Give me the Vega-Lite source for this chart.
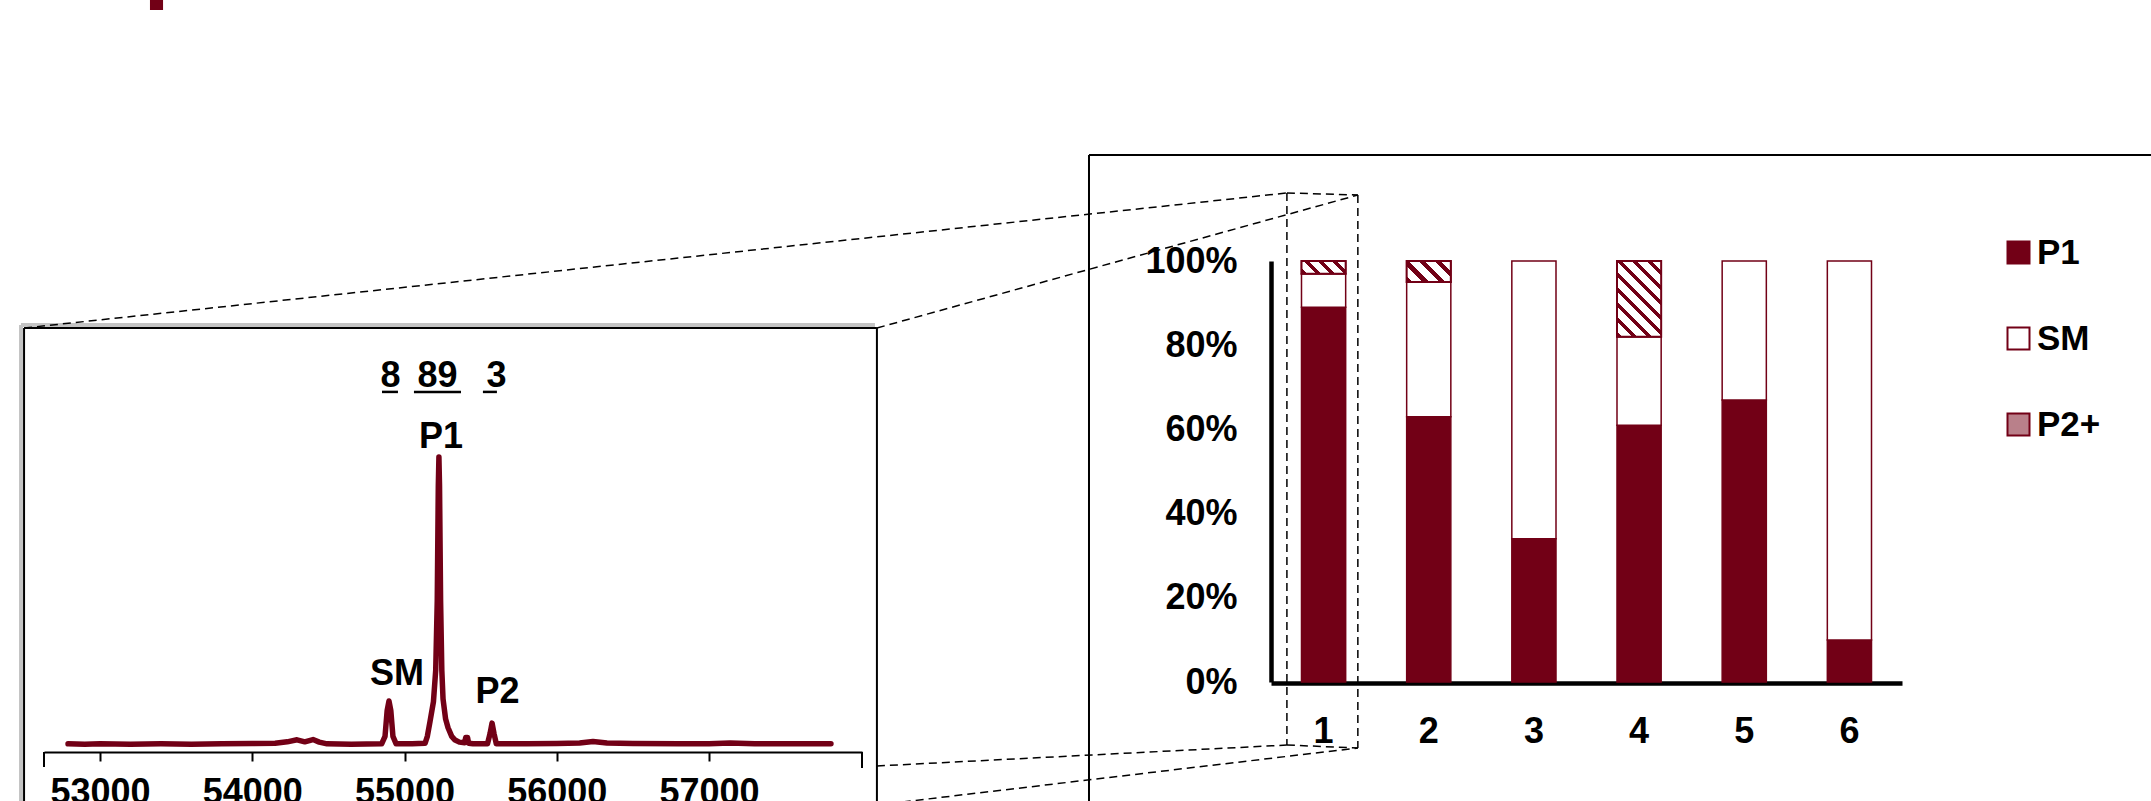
{
  "$schema": "https://vega.github.io/schema/vega-lite/v6.json",
  "width": 2151,
  "height": 801,
  "padding": 0,
  "autosize": {"type": "none"},
  "background": "white",
  "config": {"view": {"stroke": null}, "font": "Liberation Sans"},
  "datasets": {
    "spectrum": [
      {"mass": 52790, "intensity": 0.4}, {"mass": 52900, "intensity": 0.3}, {"mass": 53000, "intensity": 0.4},
      {"mass": 53200, "intensity": 0.3}, {"mass": 53400, "intensity": 0.4}, {"mass": 53600, "intensity": 0.3},
      {"mass": 53800, "intensity": 0.4}, {"mass": 54000, "intensity": 0.5}, {"mass": 54150, "intensity": 0.6},
      {"mass": 54230, "intensity": 1.1}, {"mass": 54294, "intensity": 1.8}, {"mass": 54345, "intensity": 1.1},
      {"mass": 54399, "intensity": 1.9}, {"mass": 54440, "intensity": 1.0}, {"mass": 54491, "intensity": 0.4},
      {"mass": 54650, "intensity": 0.3}, {"mass": 54850, "intensity": 0.4}, {"mass": 54872, "intensity": 3},
      {"mass": 54886, "intensity": 12}, {"mass": 54898, "intensity": 15.3}, {"mass": 54910, "intensity": 12},
      {"mass": 54924, "intensity": 3}, {"mass": 54945, "intensity": 0.4}, {"mass": 55050, "intensity": 0.4},
      {"mass": 55135, "intensity": 0.6}, {"mass": 55150, "intensity": 3}, {"mass": 55167, "intensity": 8},
      {"mass": 55190, "intensity": 15}, {"mass": 55205, "intensity": 26}, {"mass": 55215, "intensity": 50},
      {"mass": 55222, "intensity": 90}, {"mass": 55226, "intensity": 100}, {"mass": 55230, "intensity": 90},
      {"mass": 55237, "intensity": 50}, {"mass": 55245, "intensity": 26}, {"mass": 55253, "intensity": 16},
      {"mass": 55270, "intensity": 9}, {"mass": 55286, "intensity": 6}, {"mass": 55310, "intensity": 3},
      {"mass": 55332, "intensity": 1.7}, {"mass": 55360, "intensity": 1.0}, {"mass": 55395, "intensity": 0.8},
      {"mass": 55402, "intensity": 2.6}, {"mass": 55414, "intensity": 2.6}, {"mass": 55421, "intensity": 0.6},
      {"mass": 55450, "intensity": 0.4}, {"mass": 55545, "intensity": 0.4}, {"mass": 55562, "intensity": 4},
      {"mass": 55575, "intensity": 7.6}, {"mass": 55588, "intensity": 4}, {"mass": 55603, "intensity": 0.4},
      {"mass": 55800, "intensity": 0.4}, {"mass": 56000, "intensity": 0.5}, {"mass": 56150, "intensity": 0.7},
      {"mass": 56238, "intensity": 1.2}, {"mass": 56330, "intensity": 0.7}, {"mass": 56500, "intensity": 0.5},
      {"mass": 56800, "intensity": 0.4}, {"mass": 57000, "intensity": 0.4}, {"mass": 57138, "intensity": 0.7},
      {"mass": 57300, "intensity": 0.4}, {"mass": 57500, "intensity": 0.4}, {"mass": 57801, "intensity": 0.4}
    ],
    "peakLabels": [
      {"label": "8", "mass": 54908, "intensity": 128.1},
      {"label": "89", "mass": 55217, "intensity": 128.1},
      {"label": "3", "mass": 55604, "intensity": 128.1},
      {"label": "P1", "mass": 55240, "intensity": 106.9},
      {"label": "SM", "mass": 54951, "intensity": 24.7},
      {"label": "P2", "mass": 55611, "intensity": 18.4}
    ],
    "underlines": [
      {"mass": 54852, "mass2": 54957, "intensity": 122.6},
      {"mass": 55062, "mass2": 55371, "intensity": 122.6},
      {"mass": 55515, "mass2": 55607, "intensity": 122.6}
    ],
    "insetShadow": [
      {"mass": 52481, "intensity": 145.83, "mass2": 52481, "intensity2": -53.8},
      {"mass": 52481, "intensity": 145.83, "mass2": 58090, "intensity2": 145.83}
    ],
    "frames": [
      {"mass": 52501, "intensity": 144.79, "mass2": 52501, "intensity2": -53.8},
      {"mass": 52501, "intensity": 144.79, "mass2": 58103, "intensity2": 144.79},
      {"mass": 58103, "intensity": 144.79, "mass2": 58103, "intensity2": -53.8},
      {"mass": 59496, "intensity": 204.86, "mass2": 59496, "intensity2": -53.8},
      {"mass": 59496, "intensity": 204.86, "mass2": 66793, "intensity2": 204.86},
      {"mass": 52632, "intensity": -2.43, "mass2": 52632, "intensity2": -7.64},
      {"mass": 58005, "intensity": -2.43, "mass2": 58005, "intensity2": -7.99}
    ],
    "connectors": [
      {"mass": 52501, "intensity": 144.79, "mass2": 60796, "intensity2": 191.67},
      {"mass": 58103, "intensity": 144.79, "mass2": 61262, "intensity2": 190.97},
      {"mass": 58103, "intensity": -7.29, "mass2": 60796, "intensity2": 0},
      {"mass": 58103, "intensity": -20.83, "mass2": 61262, "intensity2": -1.04},
      {"mass": 60796, "intensity": 191.67, "mass2": 61262, "intensity2": 190.97},
      {"mass": 60796, "intensity": 191.67, "mass2": 60796, "intensity2": 0},
      {"mass": 61262, "intensity": 190.97, "mass2": 61262, "intensity2": -1.04},
      {"mass": 60796, "intensity": 0, "mass2": 61262, "intensity2": -1.04}
    ],
    "topMark": [
      {"mass": 53328, "intensity": 258.68, "mass2": 53414, "intensity2": 255.21}
    ],
    "bars": [
      {"lane": "1", "series": "P1", "rank": 1, "pct": 89},
      {"lane": "1", "series": "SM", "rank": 2, "pct": 8},
      {"lane": "1", "series": "P2+", "rank": 3, "pct": 3},
      {"lane": "2", "series": "P1", "rank": 1, "pct": 63},
      {"lane": "2", "series": "SM", "rank": 2, "pct": 32},
      {"lane": "2", "series": "P2+", "rank": 3, "pct": 5},
      {"lane": "3", "series": "P1", "rank": 1, "pct": 34},
      {"lane": "3", "series": "SM", "rank": 2, "pct": 66},
      {"lane": "4", "series": "P1", "rank": 1, "pct": 61},
      {"lane": "4", "series": "SM", "rank": 2, "pct": 21},
      {"lane": "4", "series": "P2+", "rank": 3, "pct": 18},
      {"lane": "5", "series": "P1", "rank": 1, "pct": 67},
      {"lane": "5", "series": "SM", "rank": 2, "pct": 33},
      {"lane": "6", "series": "P1", "rank": 1, "pct": 10},
      {"lane": "6", "series": "SM", "rank": 2, "pct": 90}
    ]
  },
  "layer": [
    {
      "encoding": {
        "x": {
          "field": "mass", "type": "quantitative",
          "scale": {"domain": [52632, 58005], "range": [44, 862], "nice": false, "zero": false},
          "axis": {
            "orient": "bottom", "offset": -49, "title": null, "grid": false,
            "values": [53000, 54000, 55000, 56000, 57000], "format": "d",
            "tickSize": 9, "tickWidth": 2, "tickColor": "black",
            "domainColor": "black", "domainWidth": 2,
            "labelPadding": 14, "labelFont": "Liberation Sans", "labelFontSize": 36, "labelFontWeight": "bold",
            "labelColor": "black", "labelFlush": false, "labelOverlap": false
          }
        },
        "y": {
          "field": "intensity", "type": "quantitative",
          "scale": {"domain": [0, 100], "range": [745, 457], "nice": false, "zero": false},
          "axis": null
        }
      },
      "layer": [
        {
          "data": {"name": "insetShadow"},
          "mark": {"type": "rule", "color": "#c4c4c4", "strokeWidth": 4},
          "encoding": {"x2": {"field": "mass2"}, "y2": {"field": "intensity2"}}
        },
        {
          "data": {"name": "frames"},
          "mark": {"type": "rule", "color": "black", "strokeWidth": 2},
          "encoding": {"x2": {"field": "mass2"}, "y2": {"field": "intensity2"}}
        },
        {
          "data": {"name": "connectors"},
          "mark": {"type": "rule", "color": "black", "strokeWidth": 1.5, "strokeDash": [8, 5]},
          "encoding": {"x2": {"field": "mass2"}, "y2": {"field": "intensity2"}}
        },
        {
          "data": {"name": "topMark"},
          "mark": {"type": "rect", "color": "#720016"},
          "encoding": {"x2": {"field": "mass2"}, "y2": {"field": "intensity2"}}
        },
        {
          "data": {"name": "spectrum"},
          "mark": {"type": "line", "color": "#720016", "strokeWidth": 5.5, "strokeJoin": "round", "strokeCap": "round"}
        },
        {
          "data": {"name": "peakLabels"},
          "mark": {"type": "text", "font": "Liberation Sans", "fontSize": 36, "fontWeight": "bold", "color": "black", "align": "center", "baseline": "middle"},
          "encoding": {"text": {"field": "label"}}
        },
        {
          "data": {"name": "underlines"},
          "mark": {"type": "rule", "color": "black", "strokeWidth": 2.5},
          "encoding": {"x2": {"field": "mass2"}}
        }
      ]
    },
    {
      "data": {"name": "bars"},
      "transform": [
        {"stack": "pct", "groupby": ["lane"], "sort": [{"field": "rank", "order": "ascending"}], "as": ["lo", "hi"]}
      ],
      "encoding": {
        "x": {
          "field": "lane", "type": "nominal",
          "scale": {"domain": ["1", "2", "3", "4", "5", "6"], "range": [1271, 1902], "paddingInner": 0.58, "paddingOuter": 0.29},
          "axis": {
            "orient": "bottom", "offset": -118, "title": null, "grid": false, "labelAngle": 0,
            "ticks": false, "tickSize": 0, "labelPadding": 31,
            "domainColor": "black", "domainWidth": 4.5,
            "labelFont": "Liberation Sans", "labelFontSize": 36, "labelFontWeight": "bold", "labelColor": "black"
          }
        },
        "y": {
          "field": "lo", "type": "quantitative",
          "scale": {"domain": [0, 100], "range": [682, 261], "nice": false, "zero": false},
          "axis": {
            "orient": "left", "offset": -1271, "title": null, "grid": false,
            "values": [0, 20, 40, 60, 80, 100], "labelExpr": "datum.value + '%'",
            "ticks": false, "tickSize": 0, "labelPadding": 34,
            "domainColor": "black", "domainWidth": 4.5,
            "labelFont": "Liberation Sans", "labelFontSize": 36, "labelFontWeight": "bold", "labelColor": "black"
          }
        },
        "y2": {"field": "hi"}
      },
      "layer": [
        {
          "mark": {"type": "bar", "stroke": "#720016", "strokeWidth": 1.5},
          "encoding": {
            "fill": {
              "field": "series", "type": "nominal",
              "scale": {"domain": ["P1", "SM", "P2+"], "range": ["#720016", "#ffffff", "#b9808a"]},
              "legend": {
                "title": null, "orient": "none", "legendX": 2001, "legendY": 235, "direction": "vertical",
                "padding": 0, "symbolType": "square", "symbolSize": 484,
                "symbolStrokeWidth": 2, "symbolStrokeColor": "#720016",
                "labelFont": "Liberation Sans", "labelFontSize": 35, "labelFontWeight": "bold", "labelColor": "black",
                "labelOffset": 1, "rowPadding": 50
              }
            }
          }
        },
        {
          "transform": [{"filter": "datum.series === 'P2+' && datum.lane === '1'"}],
          "mark": {"type": "bar", "stroke": "#720016", "strokeWidth": 2, "fill": {"gradient": "linear", "x1": 0, "y1": 1, "x2": 1.189, "y2": 0.659, "stops": [
            {"offset": 0, "color": "#720016"}, {"offset": 0.095, "color": "#720016"}, {"offset": 0.095, "color": "#ffffff"}, {"offset": 0.25, "color": "#ffffff"},
            {"offset": 0.25, "color": "#720016"}, {"offset": 0.345, "color": "#720016"}, {"offset": 0.345, "color": "#ffffff"}, {"offset": 0.5, "color": "#ffffff"},
            {"offset": 0.5, "color": "#720016"}, {"offset": 0.595, "color": "#720016"}, {"offset": 0.595, "color": "#ffffff"}, {"offset": 0.75, "color": "#ffffff"},
            {"offset": 0.75, "color": "#720016"}, {"offset": 0.845, "color": "#720016"}, {"offset": 0.845, "color": "#ffffff"}, {"offset": 1, "color": "#ffffff"}
          ]}}
        },
        {
          "transform": [{"filter": "datum.series === 'P2+' && datum.lane === '2'"}],
          "mark": {"type": "bar", "stroke": "#720016", "strokeWidth": 2, "fill": {"gradient": "linear", "x1": 0, "y1": 1, "x2": 1.203, "y2": 0.424, "stops": [
            {"offset": 0, "color": "#720016"}, {"offset": 0.095, "color": "#720016"}, {"offset": 0.095, "color": "#ffffff"}, {"offset": 0.25, "color": "#ffffff"},
            {"offset": 0.25, "color": "#720016"}, {"offset": 0.345, "color": "#720016"}, {"offset": 0.345, "color": "#ffffff"}, {"offset": 0.5, "color": "#ffffff"},
            {"offset": 0.5, "color": "#720016"}, {"offset": 0.595, "color": "#720016"}, {"offset": 0.595, "color": "#ffffff"}, {"offset": 0.75, "color": "#ffffff"},
            {"offset": 0.75, "color": "#720016"}, {"offset": 0.845, "color": "#720016"}, {"offset": 0.845, "color": "#ffffff"}, {"offset": 1, "color": "#ffffff"}
          ]}}
        },
        {
          "transform": [{"filter": "datum.series === 'P2+' && datum.lane === '4'"}],
          "mark": {"type": "bar", "stroke": "#720016", "strokeWidth": 2, "fill": {"gradient": "linear", "x1": 0, "y1": 1, "x2": 0.686, "y2": -0.182, "stops": [
            {"offset": 0, "color": "#720016"}, {"offset": 0.0475, "color": "#720016"}, {"offset": 0.0475, "color": "#ffffff"}, {"offset": 0.125, "color": "#ffffff"},
            {"offset": 0.125, "color": "#720016"}, {"offset": 0.1725, "color": "#720016"}, {"offset": 0.1725, "color": "#ffffff"}, {"offset": 0.25, "color": "#ffffff"},
            {"offset": 0.25, "color": "#720016"}, {"offset": 0.2975, "color": "#720016"}, {"offset": 0.2975, "color": "#ffffff"}, {"offset": 0.375, "color": "#ffffff"},
            {"offset": 0.375, "color": "#720016"}, {"offset": 0.4225, "color": "#720016"}, {"offset": 0.4225, "color": "#ffffff"}, {"offset": 0.5, "color": "#ffffff"},
            {"offset": 0.5, "color": "#720016"}, {"offset": 0.5475, "color": "#720016"}, {"offset": 0.5475, "color": "#ffffff"}, {"offset": 0.625, "color": "#ffffff"},
            {"offset": 0.625, "color": "#720016"}, {"offset": 0.6725, "color": "#720016"}, {"offset": 0.6725, "color": "#ffffff"}, {"offset": 0.75, "color": "#ffffff"},
            {"offset": 0.75, "color": "#720016"}, {"offset": 0.7975, "color": "#720016"}, {"offset": 0.7975, "color": "#ffffff"}, {"offset": 0.875, "color": "#ffffff"},
            {"offset": 0.875, "color": "#720016"}, {"offset": 0.9225, "color": "#720016"}, {"offset": 0.9225, "color": "#ffffff"}, {"offset": 1, "color": "#ffffff"}
          ]}}
        }
      ]
    }
  ],
  "resolve": {
    "scale": {"x": "independent", "y": "independent"},
    "axis": {"x": "independent", "y": "independent"}
  }
}
